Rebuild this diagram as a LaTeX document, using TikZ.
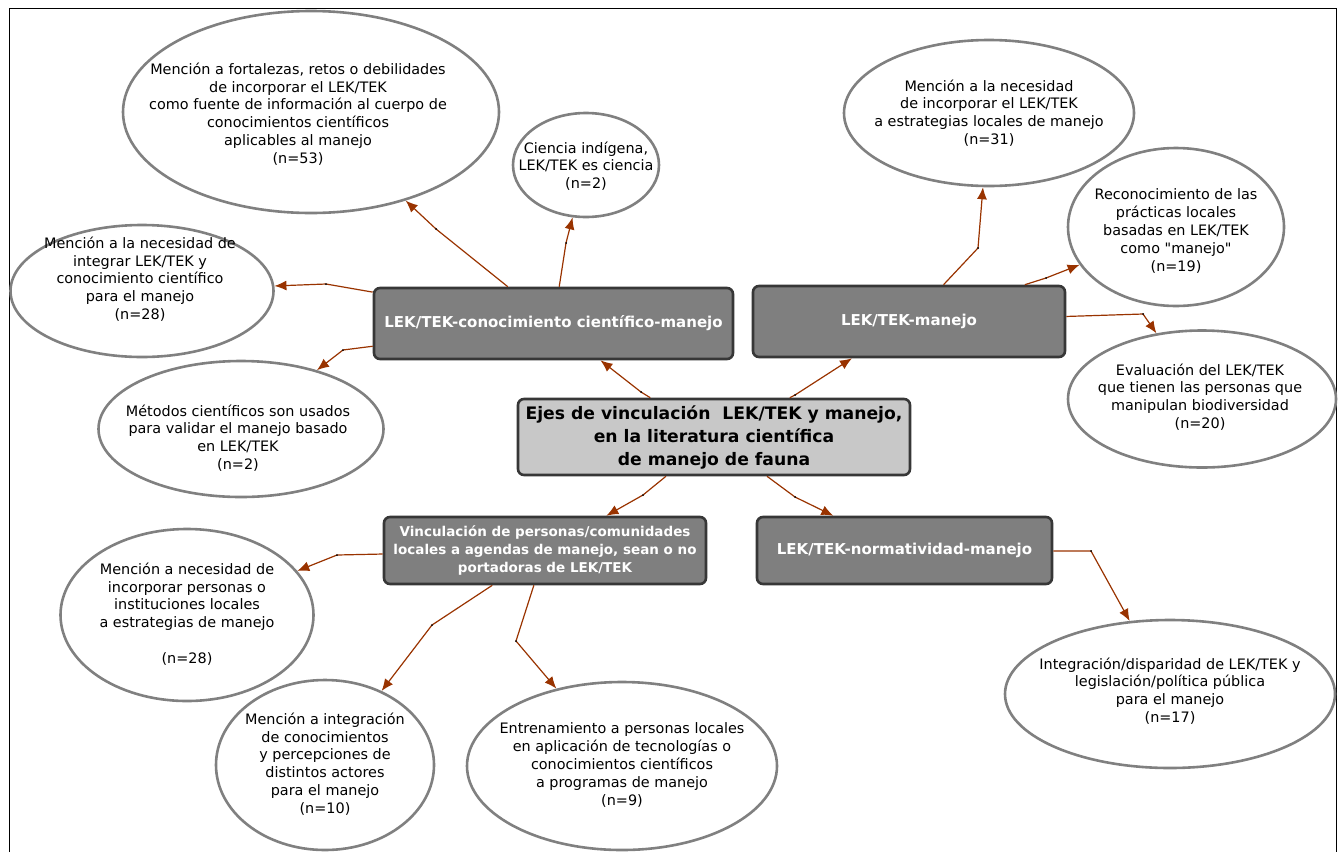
\documentclass[tikz,border=0pt]{standalone}
\usepackage{fontspec}
\setmainfont{DejaVu Sans}
\usepackage{tikz}
\usetikzlibrary{shapes.geometric,arrows.meta}
\definecolor{ellgray}{RGB}{128,128,128}
\definecolor{boxgray}{RGB}{127,127,127}
\definecolor{boxedge}{RGB}{55,55,55}
\definecolor{maingray}{RGB}{200,200,200}
\definecolor{linkbrown}{RGB}{153,51,0}

\begin{document}
\begin{tikzpicture}[x=1pt,y=-1pt,
	ell/.style={ellipse,draw=ellgray,line width=2.6pt,fill=white,inner sep=0pt},
	etxt/.style={align=center,font=\fontsize{14.4}{17.8}\selectfont},
	topic/.style={rectangle,rounded corners=6pt,draw=boxedge,line width=2.6pt,fill=boxgray,text=white,align=center,font=\bfseries\fontsize{15}{18}\selectfont},
	mainbox/.style={topic,fill=maingray,text=black,font=\bfseries\fontsize{17.2}{23}\selectfont},
	link/.style={draw=linkbrown,line width=1.2pt,-{Latex[length=12pt,width=10pt]}}]
	\useasboundingbox (0,0) rectangle (1340,852);
	\draw[line width=1pt] (9,852) -- (9,8) -- (1336,8) -- (1336,852);
	% ejes
	\node[mainbox,minimum width=392,minimum height=76] (ejes) at (714,437) {Ejes de vinculación \ LEK/TEK y manejo,\\en la literatura científica\\de manejo de fauna};
	\node[topic,minimum width=359,minimum height=71] (cien) at (553.5,323.5) {LEK/TEK-conocimiento científico-manejo};
	\node[topic,minimum width=312,minimum height=71] (man) at (909,321.5) {LEK/TEK-manejo};
	\node[topic,minimum width=322,minimum height=67,font=\bfseries\fontsize{13.5}{18}\selectfont] (vinc) at (545,550.5) {Vinculación de personas/comunidades\\locales a agendas de manejo, sean o no\\portadoras de LEK/TEK};
	\node[topic,minimum width=295,minimum height=67] (norm) at (904.5,550.5) {LEK/TEK-normatividad-manejo};
	% categorias
	\node[ell,minimum width=376,minimum height=202] (fort) at (311,112) {};
	\node[etxt] at (298,114) {Mención a fortalezas, retos o debilidades\\de incorporar el LEK/TEK\\como fuente de información al cuerpo de\\conocimientos científicos\\aplicables al manejo\\(n=53)};
	\node[ell,minimum width=146,minimum height=104] (indig) at (586,165) {};
	\node[etxt] at (586,166) {Ciencia indígena,\\LEK/TEK es ciencia\\(n=2)};
	\node[ell,minimum width=263,minimum height=132] (integ) at (142,291) {};
	\node[etxt] at (140,279) {Mención a la necesidad de\\integrar LEK/TEK y\\conocimiento científico\\para el manejo\\(n=28)};
	\node[ell,minimum width=285,minimum height=136] (metod) at (241,429) {};
	\node[etxt] at (238,438) {Métodos científicos son usados\\para validar el manejo basado\\en LEK/TEK\\(n=2)};
	\node[ell,minimum width=290,minimum height=146] (estrat) at (989,113) {};
	\node[etxt] at (989,113) {Mención a la necesidad\\de incorporar el LEK/TEK\\a estrategias locales de manejo\\(n=31)};
	\node[ell,minimum width=216,minimum height=158] (recon) at (1176,227) {};
	\node[etxt] at (1176,231) {Reconocimiento de las\\prácticas locales\\basadas en LEK/TEK\\como \textquotedbl manejo\textquotedbl\\(n=19)};
	\node[ell,minimum width=268,minimum height=137] (evalu) at (1202,399) {};
	\node[etxt] at (1200,397) {Evaluación del LEK/TEK\\que tienen las personas que\\manipulan biodiversidad\\(n=20)};
	\node[ell,minimum width=253,minimum height=172] (instit) at (187,615) {};
	\node[etxt] at (187,614) {Mención a necesidad de\\incorporar personas o\\instituciones locales\\a estrategias de manejo\\[17.8pt](n=28)};
	\node[ell,minimum width=218,minimum height=170] (percep) at (325,765) {};
	\node[etxt] at (325,764) {Mención a integración\\de conocimientos\\y percepciones de\\distintos actores\\para el manejo\\(n=10)};
	\node[ell,minimum width=310,minimum height=168] (entren) at (622,766) {};
	\node[etxt] at (622,765) {Entrenamiento a personas locales\\en aplicación de tecnologías o\\conocimientos científicos\\a programas de manejo\\(n=9)};
	\node[ell,minimum width=330,minimum height=148] (legis) at (1170,694) {};
	\node[etxt] at (1170,691) {Integración/disparidad de LEK/TEK y\\legislación/política pública\\para el manejo\\(n=17)};
	% puntos de quiebre
	\coordinate (p1) at (641,392);
	\coordinate (p2) at (795,395);
	\coordinate (p3) at (643,495);
	\coordinate (p4) at (795,497);
	\coordinate (q1) at (436,229);
	\coordinate (q2) at (566,243);
	\coordinate (q3) at (326,284);
	\coordinate (q4) at (343,350);
	\coordinate (r1) at (978,248);
	\coordinate (r2) at (1046,278);
	\coordinate (r3) at (1143,314);
	\coordinate (s1) at (337,555);
	\coordinate (s2) at (432,625);
	\coordinate (s3) at (516,641);
	\coordinate (t1) at (1091,551);
	\draw[link] (ejes) -- (p1) -- (cien);
	\draw[link] (ejes) -- (p2) -- (man);
	\draw[link] (ejes) -- (p3) -- (vinc);
	\draw[link] (ejes) -- (p4) -- (norm);
	\draw[link] (cien) -- (q1) -- (fort);
	\draw[link] (cien) -- (q2) -- (indig);
	\draw[link] (cien) -- (q3) -- (integ);
	\draw[link] (cien) -- (q4) -- (metod);
	\draw[link] (man) -- (r1) -- (estrat);
	\draw[link] (man) -- (r2) -- (recon);
	\draw[link] (man) -- (r3) -- (evalu);
	\draw[link] (vinc) -- (s1) -- (instit);
	\draw[link] (vinc) -- (s2) -- (percep);
	\draw[link] (vinc) -- (s3) -- (entren);
	\draw[link] (norm) -- (t1) -- (legis);
	\foreach \p in {p1,p2,p3,p4,q1,q2,q3,q4,r1,r2,r3,s1,s2,s3,t1}
		\fill (\p) circle (1);
\end{tikzpicture}
\end{document}
